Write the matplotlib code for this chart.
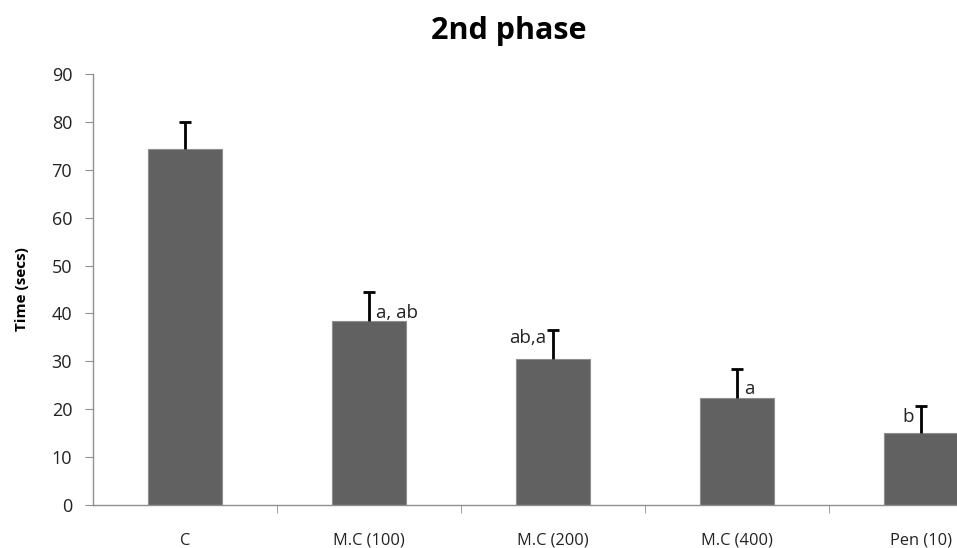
import matplotlib
matplotlib.use("Agg")
import matplotlib.pyplot as plt
import numpy as np

categories = ["C", "M.C (100)", "M.C (200)", "M.C (400)", "Pen (10)"]
means = [74.3, 38.5, 30.5, 22.3, 15.0]
errors = [5.7, 6.0, 6.0, 6.0, 5.7]
annotations = ["", "a, ab", "ab,a", "a", "b"]

# layout of the significance letters (side of error bar, vertical offset in data units)
ann_side = ["", "right", "left", "right", "left"]
ann_dy = [0, 0.6, 3.3, 0.9, 2.4]

plt.rcParams['font.family'] = ['Open Sans', 'DejaVu Sans']

fig = plt.figure(figsize=(9.57, 5.48), dpi=100)
W, H = 957, 548
left_px, right_px, top_px, bot_px = 93, 1013, 74, 505
ax = fig.add_axes([left_px / W, (H - bot_px) / H, (right_px - left_px) / W, (bot_px - top_px) / H])

x = np.arange(len(categories))
ax.bar(x, means, width=0.4, color="#616161", edgecolor="#8f8f8f", linewidth=0.8, zorder=2)
eb = ax.errorbar(x, means, yerr=[np.zeros(len(errors)), errors], fmt="none", ecolor="black",
                 elinewidth=2.0, capsize=4, capthick=2.0, zorder=3)
# only the upper cap is drawn in the reference
eb[1][0].set_visible(False)

for xi, m, t, s, dy in zip(x, means, annotations, ann_side, ann_dy):
    if not t:
        continue
    off = 5 if s == "right" else -5
    ax.annotate(t, xy=(xi, m + dy), xytext=(off, 0), textcoords="offset points",
                ha="left" if s == "right" else "right", va="baseline",
                fontsize=13.5, color="#222222")

ax.set_ylim(0, 90)
ax.set_yticks(np.arange(0, 91, 10))
ax.set_xlim(-0.5, len(categories) - 0.5)
ax.set_xticks(x)
ax.set_xticklabels(categories, fontsize=11.8)
ax.set_xticks(np.arange(0.5, len(categories) - 0.5, 1), minor=True)
ax.tick_params(axis="x", which="major", length=0, pad=20)
ax.tick_params(axis="x", which="minor", length=6, color="#8f8f8f", direction="out")
ax.tick_params(axis="y", length=6, color="#8f8f8f", labelsize=13, labelcolor="#222222", pad=9)
ax.tick_params(axis="x", labelcolor="#222222")

for sp in ["top", "right"]:
    ax.spines[sp].set_visible(False)
for sp in ["left", "bottom"]:
    ax.spines[sp].set_color("#8f8f8f")
    ax.spines[sp].set_linewidth(1.0)

ax.set_ylabel("Time (secs)", fontsize=11, fontweight="bold", labelpad=16)
fig.text(508.5 / W, 1 - 31 / H, "2nd phase", ha="center", va="center",
         fontsize=22, fontweight="bold")

fig.savefig("out.png", dpi=100)
